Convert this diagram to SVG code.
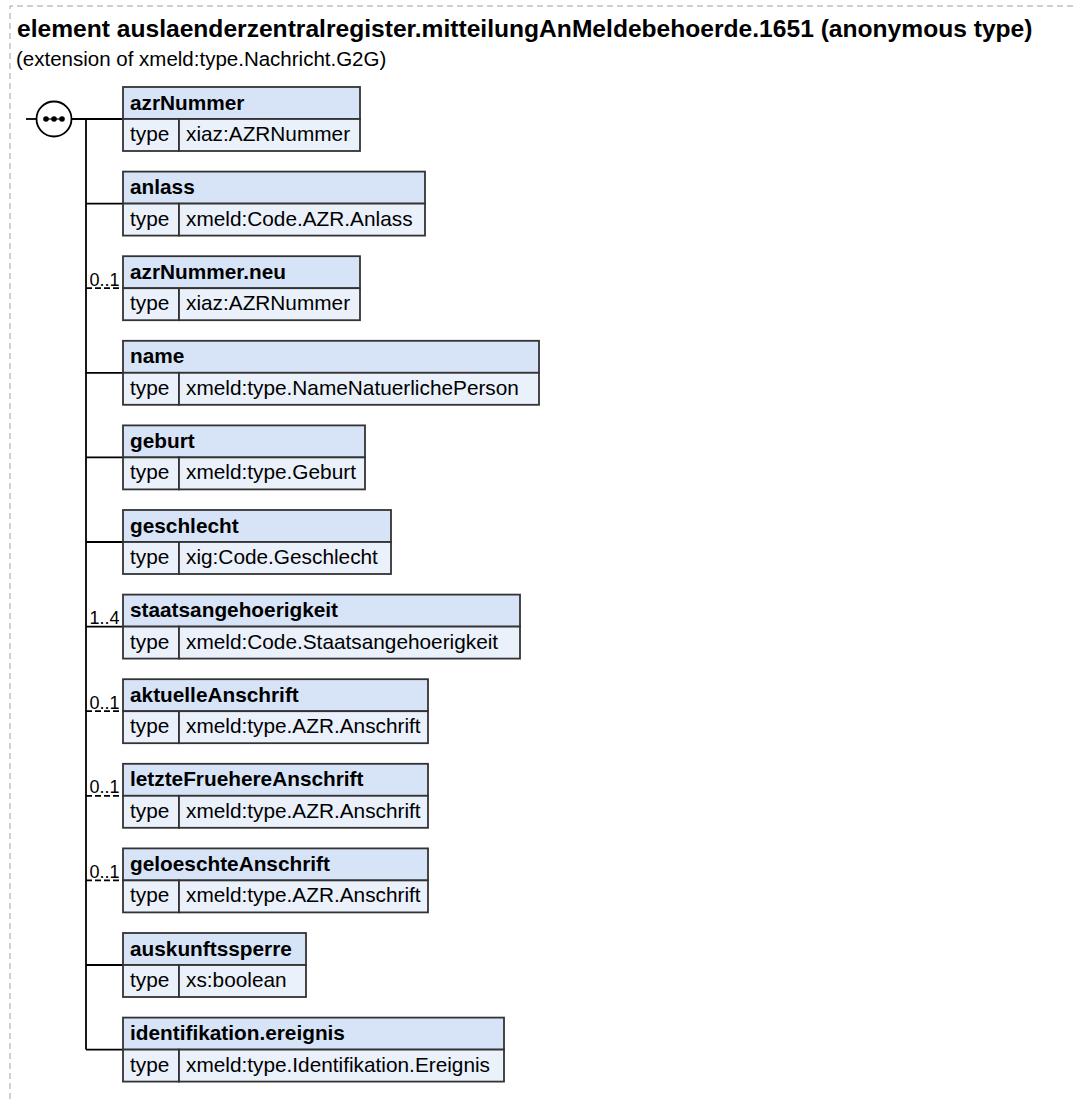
<svg xmlns="http://www.w3.org/2000/svg" width="1075" height="1099" viewBox="0 0 1075 1099">
<style>
.frame{fill:none;stroke:#a0a0a0;stroke-width:1;stroke-dasharray:6,4}
.title{font-family:"Liberation Sans",Arial,sans-serif;font-weight:bold;font-size:24.6px;fill:#000}
.sub{font-family:"Liberation Sans",Arial,sans-serif;font-size:20.5px;fill:#000}
.hd{fill:#d7e4f7;stroke:#333;stroke-width:1.8}
.ty{fill:#eaf1fb;stroke:#333;stroke-width:1.8}
.hn{font-family:"Liberation Sans",Arial,sans-serif;font-weight:bold;font-size:20.8px;fill:#000}
.tt{font-family:"Liberation Sans",Arial,sans-serif;font-size:20.8px;fill:#000}
.card{font-family:"Liberation Sans",Arial,sans-serif;font-size:18px;fill:#000}
.ln{fill:none;stroke:#000;stroke-width:1.8}
.dl{fill:none;stroke:#000;stroke-width:1.8;stroke-dasharray:6,3}
</style>
<rect width="1075" height="1099" fill="#fff"/>
<path class="frame" d="M10,1099 V6 H1075"/>
<text class="title" x="17" y="37">element auslaenderzentralregister.mitteilungAnMeldebehoerde.1651 (anonymous type)</text>
<text class="sub" x="16" y="66">(extension of xmeld:type.Nachricht.G2G)</text>

<g id="connectors">
<line class="ln" x1="26" y1="119" x2="36.5" y2="119"/>
<line class="ln" x1="71.5" y1="119" x2="123" y2="119"/>
<line class="ln" x1="86" y1="119" x2="86" y2="1049.6"/>
<line class="ln" x1="86" y1="203.6" x2="123" y2="203.6"/>
<line class="dl" x1="86" y1="288.2" x2="123" y2="288.2"/>
<line class="ln" x1="86" y1="372.8" x2="123" y2="372.8"/>
<line class="ln" x1="86" y1="457.4" x2="123" y2="457.4"/>
<line class="ln" x1="86" y1="542" x2="123" y2="542"/>
<line class="ln" x1="86" y1="626.6" x2="123" y2="626.6"/>
<line class="dl" x1="86" y1="711.2" x2="123" y2="711.2"/>
<line class="dl" x1="86" y1="795.8" x2="123" y2="795.8"/>
<line class="dl" x1="86" y1="880.4" x2="123" y2="880.4"/>
<line class="ln" x1="86" y1="965" x2="123" y2="965"/>
<line class="ln" x1="86" y1="1049.6" x2="123" y2="1049.6"/>
<text class="card" x="89.5" y="285.7">0..1</text>
<text class="card" x="89.5" y="624.1">1..4</text>
<text class="card" x="89.5" y="708.7">0..1</text>
<text class="card" x="89.5" y="793.3">0..1</text>
<text class="card" x="89.5" y="877.9">0..1</text>
</g>

<g id="sequence">
<circle cx="54" cy="119" r="17.5" fill="#fff" stroke="#000" stroke-width="1.8"/>
<line x1="46" y1="119" x2="62" y2="119" stroke="#000" stroke-width="1.2"/>
<circle cx="46" cy="119" r="2.8" fill="#000"/>
<circle cx="54" cy="119" r="2.8" fill="#000"/>
<circle cx="62" cy="119" r="2.8" fill="#000"/>
</g>

<g id="n-azrNummer" transform="translate(0,87)">
<rect class="hd" x="123" y="0" width="237" height="32"/>
<rect class="ty" x="123" y="32" width="56" height="32"/>
<rect class="ty" x="179" y="32" width="181" height="32"/>
<text class="hn" x="130" y="22.5">azrNummer</text>
<text class="tt" x="130" y="54">type</text>
<text class="tt" x="186" y="54">xiaz:AZRNummer</text>
</g>
<g id="n-anlass" transform="translate(0,171.6)">
<rect class="hd" x="123" y="0" width="302" height="32"/>
<rect class="ty" x="123" y="32" width="56" height="32"/>
<rect class="ty" x="179" y="32" width="246" height="32"/>
<text class="hn" x="130" y="22.5">anlass</text>
<text class="tt" x="130" y="54">type</text>
<text class="tt" x="186" y="54">xmeld:Code.AZR.Anlass</text>
</g>
<g id="n-azrNummer.neu" transform="translate(0,256.2)">
<rect class="hd" x="123" y="0" width="237" height="32"/>
<rect class="ty" x="123" y="32" width="56" height="32"/>
<rect class="ty" x="179" y="32" width="181" height="32"/>
<text class="hn" x="130" y="22.5">azrNummer.neu</text>
<text class="tt" x="130" y="54">type</text>
<text class="tt" x="186" y="54">xiaz:AZRNummer</text>
</g>
<g id="n-name" transform="translate(0,340.8)">
<rect class="hd" x="123" y="0" width="416" height="32"/>
<rect class="ty" x="123" y="32" width="56" height="32"/>
<rect class="ty" x="179" y="32" width="360" height="32"/>
<text class="hn" x="130" y="22.5">name</text>
<text class="tt" x="130" y="54">type</text>
<text class="tt" x="186" y="54">xmeld:type.NameNatuerlichePerson</text>
</g>
<g id="n-geburt" transform="translate(0,425.4)">
<rect class="hd" x="123" y="0" width="242" height="32"/>
<rect class="ty" x="123" y="32" width="56" height="32"/>
<rect class="ty" x="179" y="32" width="186" height="32"/>
<text class="hn" x="130" y="22.5">geburt</text>
<text class="tt" x="130" y="54">type</text>
<text class="tt" x="186" y="54">xmeld:type.Geburt</text>
</g>
<g id="n-geschlecht" transform="translate(0,510)">
<rect class="hd" x="123" y="0" width="268" height="32"/>
<rect class="ty" x="123" y="32" width="56" height="32"/>
<rect class="ty" x="179" y="32" width="212" height="32"/>
<text class="hn" x="130" y="22.5">geschlecht</text>
<text class="tt" x="130" y="54">type</text>
<text class="tt" x="186" y="54">xig:Code.Geschlecht</text>
</g>
<g id="n-staatsangehoerigkeit" transform="translate(0,594.6)">
<rect class="hd" x="123" y="0" width="397" height="32"/>
<rect class="ty" x="123" y="32" width="56" height="32"/>
<rect class="ty" x="179" y="32" width="341" height="32"/>
<text class="hn" x="130" y="22.5">staatsangehoerigkeit</text>
<text class="tt" x="130" y="54">type</text>
<text class="tt" x="186" y="54">xmeld:Code.Staatsangehoerigkeit</text>
</g>
<g id="n-aktuelleAnschrift" transform="translate(0,679.2)">
<rect class="hd" x="123" y="0" width="305" height="32"/>
<rect class="ty" x="123" y="32" width="56" height="32"/>
<rect class="ty" x="179" y="32" width="249" height="32"/>
<text class="hn" x="130" y="22.5">aktuelleAnschrift</text>
<text class="tt" x="130" y="54">type</text>
<text class="tt" x="186" y="54">xmeld:type.AZR.Anschrift</text>
</g>
<g id="n-letzteFruehereAnschrift" transform="translate(0,763.8)">
<rect class="hd" x="123" y="0" width="305" height="32"/>
<rect class="ty" x="123" y="32" width="56" height="32"/>
<rect class="ty" x="179" y="32" width="249" height="32"/>
<text class="hn" x="130" y="22.5">letzteFruehereAnschrift</text>
<text class="tt" x="130" y="54">type</text>
<text class="tt" x="186" y="54">xmeld:type.AZR.Anschrift</text>
</g>
<g id="n-geloeschteAnschrift" transform="translate(0,848.4)">
<rect class="hd" x="123" y="0" width="305" height="32"/>
<rect class="ty" x="123" y="32" width="56" height="32"/>
<rect class="ty" x="179" y="32" width="249" height="32"/>
<text class="hn" x="130" y="22.5">geloeschteAnschrift</text>
<text class="tt" x="130" y="54">type</text>
<text class="tt" x="186" y="54">xmeld:type.AZR.Anschrift</text>
</g>
<g id="n-auskunftssperre" transform="translate(0,933)">
<rect class="hd" x="123" y="0" width="183" height="32"/>
<rect class="ty" x="123" y="32" width="56" height="32"/>
<rect class="ty" x="179" y="32" width="127" height="32"/>
<text class="hn" x="130" y="22.5">auskunftssperre</text>
<text class="tt" x="130" y="54">type</text>
<text class="tt" x="186" y="54">xs:boolean</text>
</g>
<g id="n-identifikation.ereignis" transform="translate(0,1017.6)">
<rect class="hd" x="123" y="0" width="381" height="32"/>
<rect class="ty" x="123" y="32" width="56" height="32"/>
<rect class="ty" x="179" y="32" width="325" height="32"/>
<text class="hn" x="130" y="22.5">identifikation.ereignis</text>
<text class="tt" x="130" y="54">type</text>
<text class="tt" x="186" y="54">xmeld:type.Identifikation.Ereignis</text>
</g>
</svg>
